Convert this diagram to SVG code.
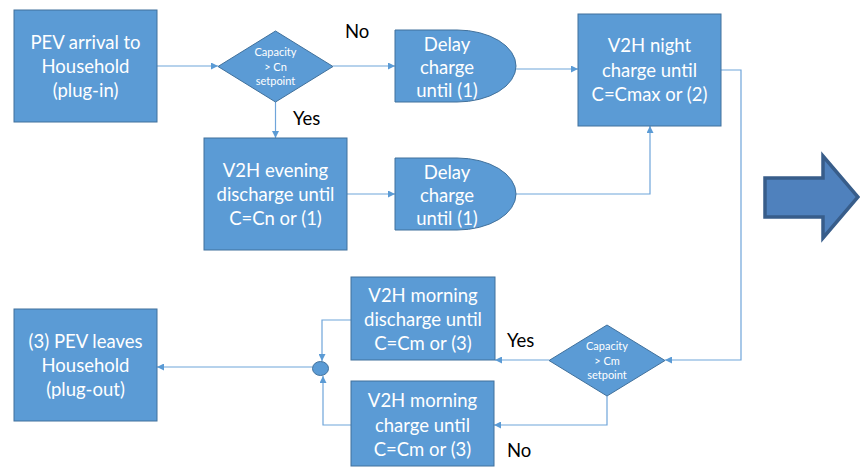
<svg xmlns="http://www.w3.org/2000/svg" width="860" height="468" viewBox="0 0 860 468">
<defs>
<marker id="ah" viewBox="0 0 10 10" refX="10" refY="5" markerWidth="7" markerHeight="7" markerUnits="userSpaceOnUse" orient="auto">
<path d="M0,0 L10,5 L0,10 Z" fill="#5B9BD5"/>
</marker>
</defs>
<style>
.box{fill:#5B9BD5;stroke:#41719C;stroke-width:1}
.t{font-family:Lato,"Open Sans","Liberation Sans",sans-serif;font-size:18.5px;fill:#FFFFFF;text-anchor:middle}
.s{font-family:Lato,"Open Sans","Liberation Sans",sans-serif;font-size:11px;fill:#FFFFFF;text-anchor:middle}
.lbl{font-family:Lato,"Open Sans","Liberation Sans",sans-serif;font-size:18.5px;fill:#000000}
.c{fill:none;stroke:#6FA5DA;stroke-width:1.2;marker-end:url(#ah)}
</style>
<rect width="860" height="468" fill="#FFFFFF"/>
<g id="connectors">
<path class="c" d="M157,66 H218"/>
<path class="c" d="M333,66 H395"/>
<path class="c" d="M275.5,102 V138"/>
<path class="c" d="M516,69 H578"/>
<path class="c" d="M347,194 H395"/>
<path class="c" d="M516,194 H650 V126"/>
<path class="c" d="M721,70 H741 V360 H665"/>
<path class="c" d="M549,360 H495"/>
<path class="c" d="M607,396 V425 H494"/>
<path class="c" d="M351,320 H322 V361"/>
<path class="c" d="M351,425 H323 V376"/>
<path class="c" d="M312,367 H157"/>
</g>
<g id="n_arrival">
<rect class="box" x="14" y="10" width="143" height="112"/>
<text class="t" x="85.5" y="48.5">PEV arrival to</text>
<text class="t" x="85.5" y="73">Household</text>
<text class="t" x="85.5" y="97">(plug-in)</text>
</g>
<g id="n_dec1">
<path class="box" d="M275.5,31 L333,66.5 L275.5,102 L218,66.5 Z"/>
<text class="s" x="275.5" y="56">Capacity</text>
<text class="s" x="275.5" y="71">&gt; Cn</text>
<text class="s" x="275.5" y="85">setpoint</text>
</g>
<g id="n_delay1">
<path class="box" d="M395,30 H457 A59,36 0 0 1 457,102 H395 Z"/>
<text class="t" x="447" y="51">Delay</text>
<text class="t" x="447" y="74">charge</text>
<text class="t" x="447" y="97">until (1)</text>
</g>
<g id="n_evening">
<rect class="box" x="204" y="138" width="143" height="112"/>
<text class="t" x="275.5" y="177">V2H evening</text>
<text class="t" x="275.5" y="201">discharge until</text>
<text class="t" x="275.5" y="225">C=Cn or (1)</text>
</g>
<g id="n_delay2">
<path class="box" d="M395,158 H457 A59,36 0 0 1 457,230 H395 Z"/>
<text class="t" x="447" y="179">Delay</text>
<text class="t" x="447" y="202">charge</text>
<text class="t" x="447" y="225">until (1)</text>
</g>
<g id="n_night">
<rect class="box" x="578" y="14" width="143" height="112"/>
<text class="t" x="649.5" y="52">V2H night</text>
<text class="t" x="649.5" y="77">charge until</text>
<text class="t" x="649.5" y="101">C=Cmax or (2)</text>
</g>
<g id="n_dec2">
<path class="box" d="M607,325 L665,360.5 L607,396 L549,360.5 Z"/>
<text class="s" x="607" y="350">Capacity</text>
<text class="s" x="607" y="364.5">&gt; Cm</text>
<text class="s" x="607" y="378.5">setpoint</text>
</g>
<g id="n_mdis">
<rect class="box" x="351" y="277" width="144" height="83"/>
<text class="t" x="423" y="302">V2H morning</text>
<text class="t" x="423" y="326">discharge until</text>
<text class="t" x="423" y="350">C=Cm or (3)</text>
</g>
<g id="n_mchg">
<rect class="box" x="351" y="381" width="143" height="85"/>
<text class="t" x="422.5" y="407">V2H morning</text>
<text class="t" x="422.5" y="431.5">charge until</text>
<text class="t" x="422.5" y="456">C=Cm or (3)</text>
</g>
<g id="n_junction">
<ellipse class="box" cx="320.5" cy="368.5" rx="8" ry="7"/>
</g>
<g id="n_leaves">
<rect class="box" x="14" y="309" width="143" height="112"/>
<text class="t" x="85.5" y="347.5">(3) PEV leaves</text>
<text class="t" x="85.5" y="372">Household</text>
<text class="t" x="85.5" y="396">(plug-out)</text>
</g>
<g id="labels">
<text class="lbl" x="345" y="37.5">No</text>
<text class="lbl" x="293" y="125">Yes</text>
<text class="lbl" x="507" y="347">Yes</text>
<text class="lbl" x="507" y="457">No</text>
</g>
<g id="bigarrow">
<path d="M765,178 H823 V156 L858,197 L823,238 V217 H765 Z" fill="#4F81BD" stroke="#385D8A" stroke-width="3.5" stroke-linejoin="miter"/>
</g>
</svg>
